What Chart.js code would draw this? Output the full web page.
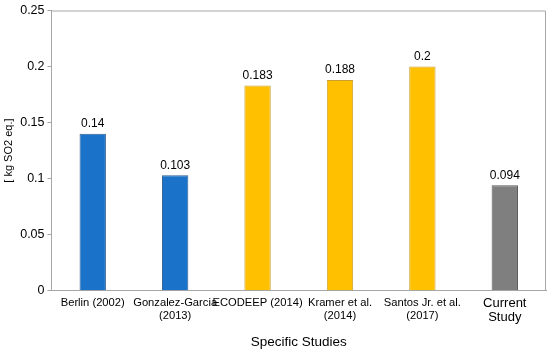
<!DOCTYPE html>
<html><head><meta charset="utf-8">
<script src="https://cdn.jsdelivr.net/npm/chart.js@4/dist/chart.umd.min.js"></script>
<style>html,body{margin:0;padding:0;background:#fff}#w{width:550px;height:353px}</style>
</head><body><div id="w"><canvas id="c"></canvas></div>
<script>
const categories = [["Berlin (2002)"], ["Gonzalez-Garcia", "(2013)"], ["ECODEEP (2014)"], ["Kramer et al.", "(2014)"], ["Santos Jr. et al.", "(2017)"], ["Current", "Study"]];
const values = [0.14, 0.103, 0.183, 0.188, 0.2, 0.094];
const valueLabels = ["0.14", "0.103", "0.183", "0.188", "0.2", "0.094"];
const barColors = ["#1a73c9", "#1a73c9", "#ffc000", "#ffc000", "#ffc000", "#7f7f7f"];
const barBorders = ["#2f5f96", "#2f5f96", "#c9a030", "#c9a030", "#c9a030", "#5a5a5a"];
const yTicks = [0, 0.05, 0.1, 0.15, 0.2, 0.25];
const FONT = "'Liberation Sans', Arial, sans-serif";

const framePlugin = {
  id: 'frame',
  afterDraw(chart) {
    const {ctx, chartArea: a} = chart;
    ctx.save();
    ctx.strokeStyle = '#a6a6a6';
    ctx.lineWidth = 1;
    ctx.beginPath();
    ctx.moveTo(a.left, a.top + 0.5);
    ctx.lineTo(a.right - 0.5, a.top + 0.5);
    ctx.lineTo(a.right - 0.5, a.bottom);
    ctx.stroke();
    const meta = chart.getDatasetMeta(0);
    ctx.fillStyle = '#000';
    ctx.font = "12px " + FONT;
    ctx.textAlign = 'center';
    ctx.textBaseline = 'bottom';
    meta.data.forEach((el, i) => {
      ctx.fillText(valueLabels[i], el.x, el.y - 4);
    });
    ctx.restore();
  }
};

new Chart(document.getElementById('c'), {
  type: 'bar',
  data: {
    labels: categories,
    datasets: [{
      data: values,
      backgroundColor: barColors,
      borderColor: barBorders,
      borderWidth: 1,
      barPercentage: 0.32,
      categoryPercentage: 1
    }]
  },
  options: {
    responsive: true,
    maintainAspectRatio: false,
    animation: false,
    layout: {padding: {top: 8, right: 4, left: 2, bottom: 3}},
    plugins: {legend: {display: false}, tooltip: {enabled: false}},
    scales: {
      x: {
        grid: {display: false, drawTicks: false},
        border: {display: true, color: '#a6a6a6'},
        ticks: {
          color: '#000',
          padding: 6,
          maxRotation: 0,
          autoSkip: false,
          font: (c) => c.index === 5 ? {family: FONT, size: 13, lineHeight: 1.08} : {family: FONT, size: 11.2, lineHeight: 1.15}
        },
        title: {display: true, text: 'Specific Studies', color: '#000', font: {family: FONT, size: 13.5}, padding: {top: 3, bottom: 0}}
      },
      y: {
        min: 0, max: 0.25,
        afterBuildTicks: (s) => { s.ticks = yTicks.map(v => ({value: v})); },
        grid: {display: true, drawOnChartArea: false, drawTicks: true, tickLength: 4, color: '#a6a6a6'},
        border: {display: true, color: '#a6a6a6'},
        ticks: {color: '#000', padding: 3, font: {family: FONT, size: 12.5}, callback: (v) => String(v)},
        title: {display: true, text: '[ kg SO2 eq.]', color: '#000', font: {family: FONT, size: 11}, padding: {top: 0, bottom: 2}}
      }
    }
  },
  plugins: [framePlugin]
});
</script></body></html>
